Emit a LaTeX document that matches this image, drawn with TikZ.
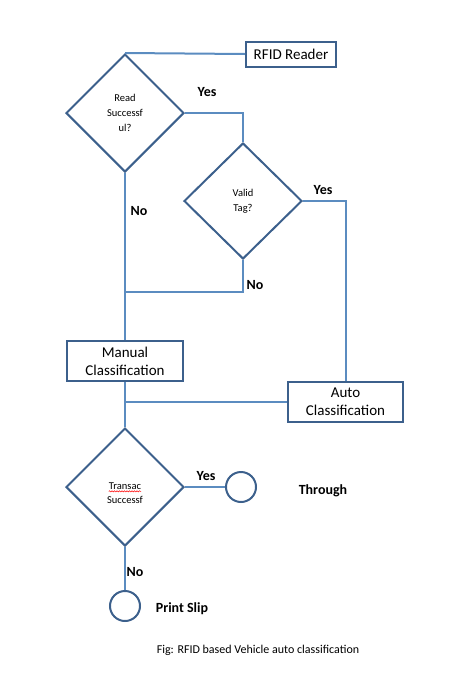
\documentclass[tikz,border=0pt]{standalone}
\usepackage{fontspec}
\setmainfont{Carlito}
\usepackage{tikz}
\usetikzlibrary{shapes.geometric,decorations.pathmorphing}
\definecolor{linkblue}{RGB}{91,140,192}
\definecolor{boxblue}{RGB}{60,96,140}
\tikzset{
  procbox/.style={draw=boxblue,line width=2pt,minimum height=40pt,align=center,font=\fontsize{15}{18}\selectfont},
  decide/.style={diamond,draw=boxblue,line width=2pt,minimum width=118pt,minimum height=118pt,inner sep=0pt,align=center,font=\fontsize{10.5}{15}\selectfont},
  endpt/.style={circle,draw=boxblue,line width=2pt,minimum size=30pt,inner sep=0pt},
  link/.style={draw=linkblue,line width=2pt},
  tag/.style={font=\fontsize{14}{16}\selectfont\bfseries},
  small/.style={inner sep=0pt,font=\fontsize{10.5}{14}\selectfont}
}

\begin{document}
\begin{tikzpicture}[x=1pt,y=-1pt]
        \useasboundingbox (0,0) rectangle (458,691);

        % shapes
        \node[procbox,minimum width=90pt,minimum height=25pt] (rdr) at (291,54) {RFID Reader};
        \node[decide] (rd) at (125,113) {Read\\Successf\\ul?};
        \node[decide,minimum height=116pt] (vt) at (243,201) {Valid\\Tag?};
        \node[procbox,minimum width=116pt] (man) at (125,361) {Manual\\Classification};
        \node[procbox,minimum width=115pt] (aut) at (345.5,402) {Auto\\Classification};
        \node[decide] (trn) at (125,487) {};
        \node[small] (trn1) at (125,486) {Transac};
        \node[small] (trn2) at (125,500) {Successf};
        \node[endpt] (thr) at (241,487) {};
        \node[endpt] (prt) at (125,606) {};

        % spell check squiggle
        \draw[red,line width=0.5pt,decorate,decoration={snake,amplitude=0.6pt,segment length=2.5pt}]
                ([yshift=-2pt]trn1.base west) -- ([yshift=-2pt]trn1.base east);

        % junctions
        \coordinate (j1) at (125,292);

        % connectors
        \draw[link] (rd.north) -- (rdr.west);
        \draw[link] (rd.east) -| (vt.north);
        \draw[link] (vt.east) -| (aut.north);
        \draw[link] (rd.south) -- (man.north);
        \draw[link] (vt.south) |- (j1);
        \draw[link] (aut.west) -- (man.south |- aut.west);
        \draw[link] (man.south) -- (trn.north);
        \draw[link] (trn.east) -- (thr.west);
        \draw[link] (trn.south) -- (prt.north);

        % labels
        \node[tag] (y1) at (207,92) {Yes};
        \node[tag] (n1) at (139,211) {No};
        \node[tag] (y2) at (323,190) {Yes};
        \node[tag] (n2) at (255,285) {No};
        \node[tag] (y3) at (206,476) {Yes};
        \node[tag] (n3) at (135,572) {No};
        \node[tag] (thrl) at (323,491) {Through};
        \node[tag] (prtl) at (182,609) {Print Slip};
        \node[font=\fontsize{12}{14}\selectfont] (cap) at (258,650) {Fig: RFID based Vehicle auto classification};
\end{tikzpicture}
\end{document}
